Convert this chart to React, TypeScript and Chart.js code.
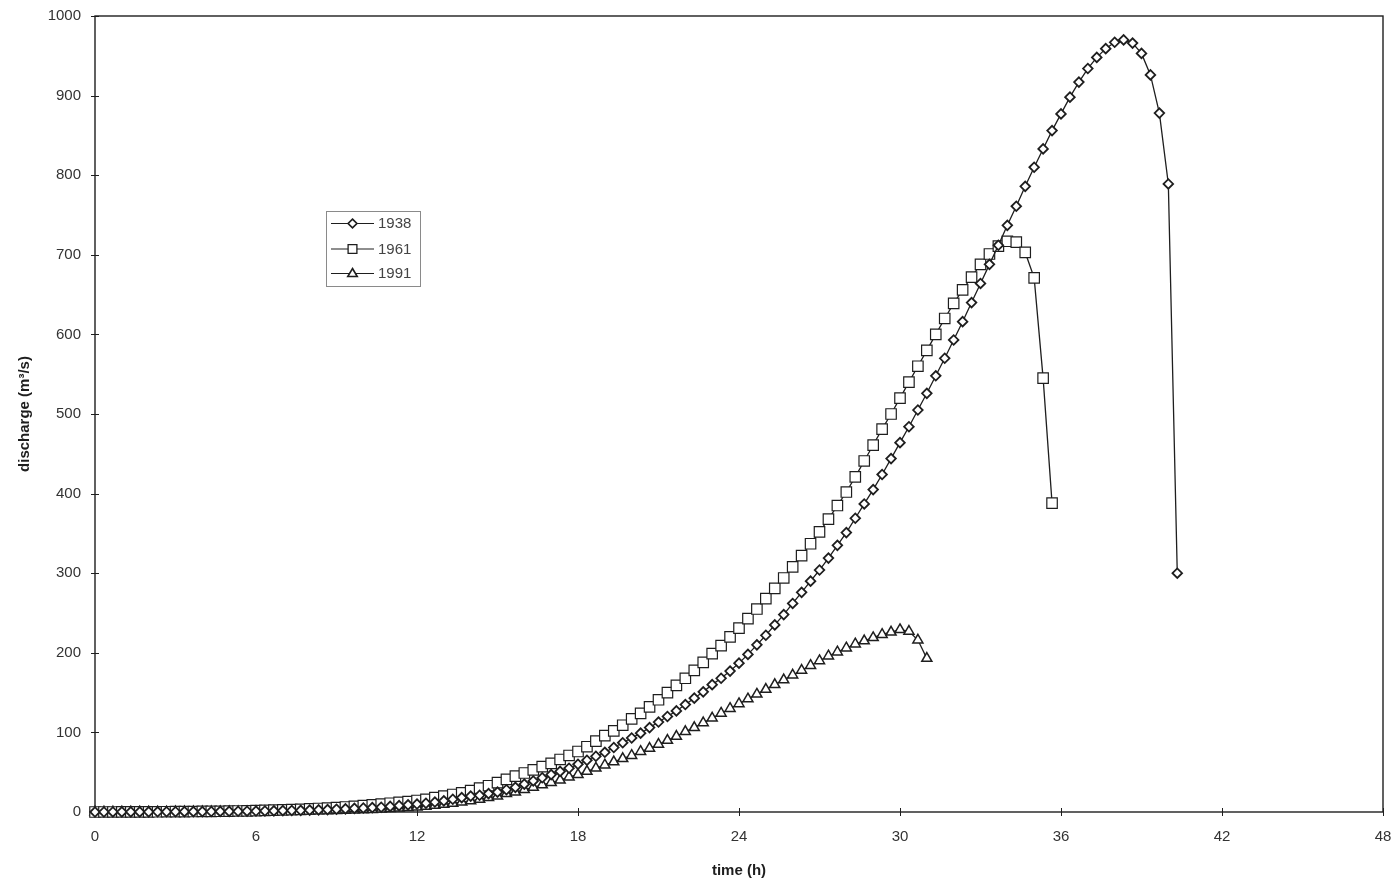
import React, { useEffect, useRef } from "react";
import { Chart, registerables } from "chart.js";

Chart.register(...registerables);

// ---- data ----
const TIME_STEP_H = 1 / 3; // one value every 20 minutes
const SERIES_NAMES = ["1938", "1961", "1991"];

const V1938 = [
  0, 0.02, 0.05, 0.1, 0.12, 0.15, 0.2, 0.25, 0.3, 0.35,
  0.4, 0.45, 0.5, 0.6, 0.7, 0.8, 0.9, 1.0, 1.2, 1.3,
  1.5, 1.7, 1.9, 2.1, 2.4, 2.7, 3.0, 3.5, 4.0, 4.5,
  5.0, 5.5, 6.0, 7.0, 8.0, 9.0, 10, 11, 12.5, 14,
  16, 18, 20, 21, 23, 25, 28, 31, 35, 39,
  43, 47, 51, 55, 60, 65, 70, 75, 81, 87,
  93, 99, 106, 113, 120, 127, 135, 143, 151, 160,
  168, 177, 187, 198, 210, 222, 235, 248, 262, 276,
  290, 304, 319, 335, 351, 369, 387, 405, 424, 444,
  464, 484, 505, 526, 548, 570, 593, 616, 640, 664,
  688, 712, 737, 761, 786, 810, 833, 856, 877, 898,
  917, 934, 948, 959, 967, 970, 966, 953, 926, 878,
  789, 300,
];

const V1961 = [
  0, 0.02, 0.05, 0.1, 0.15, 0.2, 0.25, 0.3, 0.35, 0.4,
  0.5, 0.6, 0.7, 0.8, 0.9, 1.1, 1.3, 1.5, 1.7, 2.0,
  2.3, 2.6, 3.0, 3.4, 3.9, 4.4, 5.0, 5.6, 6.3, 7.0,
  8, 9, 10, 11, 12, 13, 14.5, 16, 18, 20,
  22, 24, 27, 30, 33, 37, 41, 45, 49, 53,
  57, 61, 66, 71, 76, 82, 89, 96, 102, 109,
  117, 124, 132, 141, 150, 159, 168, 178, 188, 199,
  209, 220, 231, 243, 255, 268, 281, 294, 308, 322,
  337, 352, 368, 385, 402, 421, 441, 461, 481, 500,
  520, 540, 560, 580, 600, 620, 639, 656, 672, 688,
  701, 711, 717, 716, 703, 671, 545, 388,
];

const V1991 = [
  0, 0.005, 0.01, 0.02, 0.03, 0.04, 0.05, 0.06, 0.08, 0.1,
  0.12, 0.15, 0.18, 0.2, 0.25, 0.3, 0.35, 0.4, 0.45, 0.5,
  0.6, 0.7, 0.8, 0.95, 1.1, 1.3, 1.5, 1.7, 2.0, 2.3,
  2.7, 3.1, 3.6, 4.2, 4.8, 5.5, 6.3, 7.2, 8.3, 9.5,
  11, 12.5, 14, 16, 18, 20, 23, 25, 28, 31,
  34, 37, 40, 44, 47, 51, 55, 59, 63, 67,
  71, 76, 80, 85, 90, 95, 101, 106, 112, 118,
  124, 130, 136, 142, 148, 154, 160, 166, 172, 178,
  184, 190, 196, 201, 206, 211, 215, 219, 223, 226,
  229, 227, 216, 193,
];

const X_TICKS = [0, 6, 12, 18, 24, 30, 36, 42, 48];
const Y_TICKS = [0, 100, 200, 300, 400, 500, 600, 700, 800, 900, 1000];
const X_TITLE = "time (h)";
const Y_TITLE = "discharge (m³/s)";

// ---- styling ----
const FONT = "'Liberation Sans', Arial, sans-serif";
const INK = "#1e1e1e";
const TEXT = "#333";

function toPoints(values: number[]) {
  return values.map((v, i) => ({ x: i * TIME_STEP_H, y: v }));
}

function drawMarker(ctx: CanvasRenderingContext2D, kind: string, x: number, y: number) {
  ctx.save();
  ctx.fillStyle = "#fff";
  ctx.strokeStyle = INK;
  ctx.beginPath();
  if (kind === "diamond") {
    const r = 4.4;
    ctx.lineWidth = 1.7;
    ctx.moveTo(x, y - r);
    ctx.lineTo(x + r, y);
    ctx.lineTo(x, y + r);
    ctx.lineTo(x - r, y);
    ctx.closePath();
  } else if (kind === "square") {
    const h = 4.4;
    ctx.lineWidth = 1.3;
    ctx.rect(x - h, y - h, 2 * h, 2 * h);
  } else {
    const r = 5;
    ctx.lineWidth = 1.6;
    ctx.moveTo(x, y - r);
    ctx.lineTo(x + r * 0.95, y + r * 0.6);
    ctx.lineTo(x - r * 0.95, y + r * 0.6);
    ctx.closePath();
  }
  ctx.fill();
  ctx.stroke();
  ctx.restore();
}

const framePlugin = {
  id: "frameTicksLegend",
  beforeDatasetsDraw(chart: any) {
    const { ctx, chartArea: a, scales } = chart;
    ctx.save();
    ctx.strokeStyle = INK;
    ctx.lineWidth = 1.4;
    ctx.strokeRect(a.left, a.top, a.right - a.left, a.bottom - a.top);
    ctx.lineWidth = 1;
    ctx.beginPath();
    for (const v of Y_TICKS) {
      const y = Math.round(scales.y.getPixelForValue(v)) + 0.5;
      ctx.moveTo(a.left - 4, y);
      ctx.lineTo(a.left + 4, y);
    }
    for (const v of X_TICKS) {
      const x = Math.round(scales.x.getPixelForValue(v)) + 0.5;
      ctx.moveTo(x, a.bottom - 4);
      ctx.lineTo(x, a.bottom + 4);
    }
    ctx.stroke();
    ctx.restore();
  },
  afterDraw(chart: any) {
    const { ctx } = chart;
    const kinds = ["diamond", "square", "triangle"];
    const box = { x: 326.5, y: 211.5, w: 94, h: 75 };
    const rows = [223.5, 249, 273.5];
    ctx.save();
    ctx.strokeStyle = "#8a8a8a";
    ctx.lineWidth = 1;
    ctx.strokeRect(box.x, box.y, box.w, box.h);
    ctx.font = `15px ${FONT}`;
    ctx.textBaseline = "middle";
    ctx.textAlign = "left";
    SERIES_NAMES.forEach((name, i) => {
      const y = rows[i];
      ctx.strokeStyle = INK;
      ctx.lineWidth = 1.2;
      ctx.beginPath();
      ctx.moveTo(331, y);
      ctx.lineTo(374, y);
      ctx.stroke();
      drawMarker(ctx, kinds[i], 352.5, y);
      ctx.fillStyle = "#444";
      ctx.fillText(name, 378, y + 0.5);
    });
    ctx.restore();
  },
};

export default function App() {
  const canvasRef = useRef<HTMLCanvasElement | null>(null);

  useEffect(() => {
    document.body.style.margin = "0";
    const canvas = canvasRef.current;
    if (!canvas) return;
    Chart.defaults.font.family = FONT;

    const common = {
      borderColor: INK,
      borderWidth: 1.3,
      pointBackgroundColor: "#fff",
      pointBorderColor: INK,
      pointHoverRadius: 0,
      tension: 0,
      fill: false,
      clip: false as any,
    };

    const chart = new Chart(canvas, {
      type: "line",
      data: {
        datasets: [
          {
            ...common,
            label: SERIES_NAMES[0],
            data: toPoints(V1938),
            pointStyle: "rectRot",
            pointRadius: 4.8,
            pointBorderWidth: 1.8,
          },
          {
            ...common,
            label: SERIES_NAMES[1],
            data: toPoints(V1961),
            pointStyle: "rect",
            pointRadius: 7.4,
            pointBorderWidth: 1.2,
          },
          {
            ...common,
            label: SERIES_NAMES[2],
            data: toPoints(V1991),
            pointStyle: "triangle",
            pointRadius: 5.8,
            pointBorderWidth: 1.5,
          },
        ],
      },
      options: {
        responsive: false,
        animation: false,
        devicePixelRatio: 1,
        layout: { padding: { left: 0, top: 16, right: 17, bottom: 0 } },
        plugins: {
          legend: { display: false },
          tooltip: { enabled: false },
          title: { display: false },
        },
        events: [],
        scales: {
          x: {
            type: "linear",
            min: 0,
            max: 48,
            afterFit: (s: any) => {
              s.height = 74;
              s.paddingLeft = 0;
              s.paddingRight = 0;
            },
            afterBuildTicks: (s: any) => {
              s.ticks = X_TICKS.map((v) => ({ value: v }));
            },
            grid: { display: false, drawTicks: false },
            border: { display: false },
            ticks: {
              color: TEXT,
              font: { size: 15, family: FONT },
              padding: 16,
              maxRotation: 0,
              autoSkip: false,
              callback: (v: any) => String(v),
            },
            title: {
              display: true,
              text: X_TITLE,
              color: INK,
              font: { size: 15, weight: "bold", family: FONT },
              padding: { top: 0, bottom: 6 },
            },
          },
          y: {
            type: "linear",
            min: 0,
            max: 1000,
            afterFit: (s: any) => {
              s.width = 95;
              s.paddingTop = 0;
              s.paddingBottom = 0;
            },
            afterBuildTicks: (s: any) => {
              s.ticks = Y_TICKS.map((v) => ({ value: v }));
            },
            grid: { display: false, drawTicks: false },
            border: { display: false },
            ticks: {
              color: TEXT,
              font: { size: 15, family: FONT },
              padding: 14,
              autoSkip: false,
              callback: (v: any) => String(v),
            },
            title: {
              display: true,
              text: Y_TITLE,
              color: INK,
              font: { size: 15, weight: "bold", family: FONT },
              padding: { top: 16, bottom: 0 },
            },
          },
        },
      },
      plugins: [framePlugin],
    });

    return () => chart.destroy();
  }, []);

  return (
    <div style={{ position: "absolute", left: 0, top: 0, width: 1400, height: 886, background: "#fff" }}>
      <canvas ref={canvasRef} width={1400} height={886} style={{ width: 1400, height: 886, display: "block" }} />
    </div>
  );
}
